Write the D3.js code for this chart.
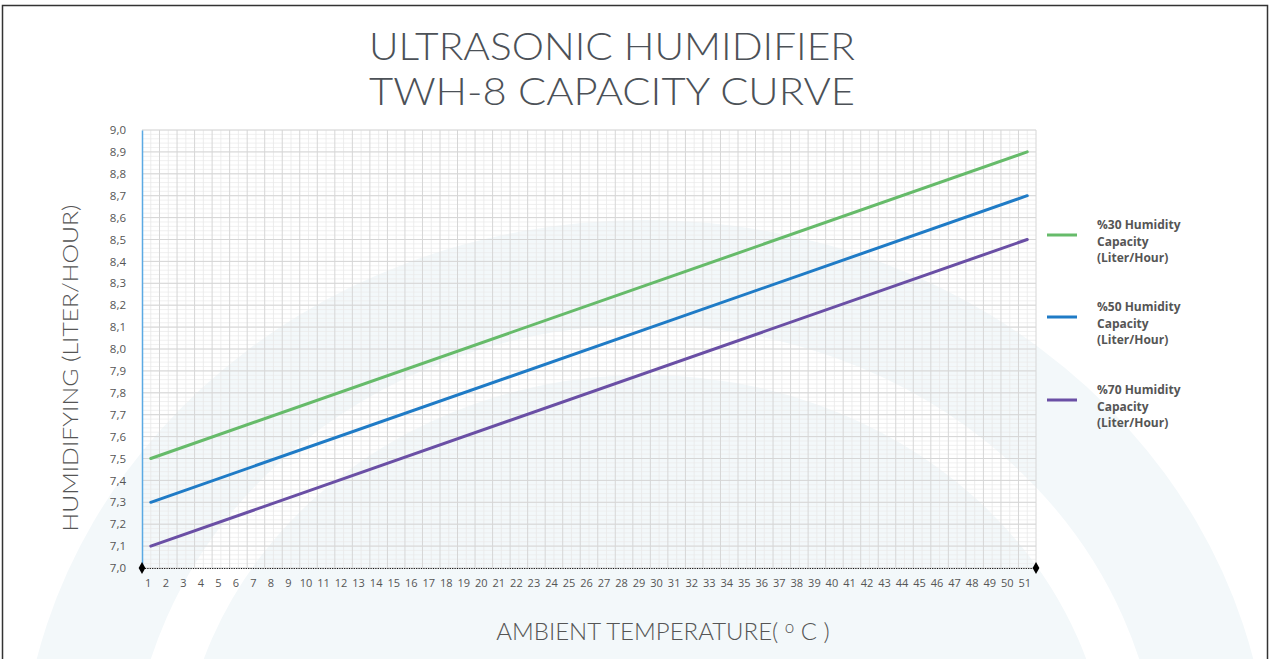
<!DOCTYPE html>
<html>
<head>
<meta charset="utf-8">
<script src="https://cdn.jsdelivr.net/npm/d3@7"></script>
<style>
  body { margin: 0; background: #fff; }
  text { font-family: "Open Sans", sans-serif; }
</style>
</head>
<body>
<div id="chart"></div>
<script>
// data
var temps = [1, 51];
var hum30 = [7.5, 8.9];
var hum50 = [7.3, 8.7];
var hum70 = [7.1, 8.5];
var seriesNames = ["%30 Humidity", "%50 Humidity", "%70 Humidity"];
var seriesColors = ["#66bb6a", "#1f7bc6", "#6a4fa5"];
var xTicks = d3.range(1, 52);
var yTicks = d3.range(7.0, 9.001, 0.1);

var W = 1269, H = 659;
var svg = d3.select("#chart").append("svg")
    .attr("width", W)
    .attr("height", H);

// faint arch watermark behind everything
svg.append("ellipse")
    .attr("cx", 645).attr("cy", 790)
    .attr("rx", 625).attr("ry", 570)
    .attr("fill", "#f3f8fa");
svg.append("ellipse")
    .attr("cx", 645).attr("cy", 790)
    .attr("rx", 490).attr("ry", 440)
    .attr("fill", "none")
    .attr("stroke", "#fff")
    .attr("stroke-width", 50);

// frame
svg.append("rect")
    .attr("x", 2.5).attr("y", 5.5)
    .attr("width", 1265).attr("height", 700)
    .attr("fill", "none")
    .attr("stroke", "#333")
    .attr("stroke-width", 1.5);

var x = d3.scaleLinear().domain([0.5, 51.5]).range([142, 1036]);
var y = d3.scaleLinear().domain([7.0, 9.0]).range([568, 130]);

// grid
var g = svg.append("g");
var vMinor = d3.range(1, 52);
var vMajor = d3.range(1.5, 51.6, 1);
var hMinor = d3.range(0, 101).map(function(i) { return 7 + i * 0.02; });
var hMajor = d3.range(0, 21).map(function(i) { return 7 + i * 0.1; });

g.selectAll(".hmin").data(hMinor).enter().append("line")
    .attr("x1", x(0.5)).attr("x2", x(51.5))
    .attr("y1", function(d) { return y(d); })
    .attr("y2", function(d) { return y(d); })
    .attr("stroke", "#ececec").attr("stroke-width", 0.8);
g.selectAll(".vmin").data(vMinor).enter().append("line")
    .attr("x1", function(d) { return x(d); })
    .attr("x2", function(d) { return x(d); })
    .attr("y1", y(9)).attr("y2", y(7))
    .attr("stroke", "#e8e8e8").attr("stroke-width", 0.8);
g.selectAll(".hmaj").data(hMajor).enter().append("line")
    .attr("x1", x(0.5)).attr("x2", x(51.5))
    .attr("y1", function(d) { return y(d); })
    .attr("y2", function(d) { return y(d); })
    .attr("stroke", "#d6d6d6").attr("stroke-width", 1);
g.selectAll(".vmaj").data(vMajor).enter().append("line")
    .attr("x1", function(d) { return x(d); })
    .attr("x2", function(d) { return x(d); })
    .attr("y1", y(9)).attr("y2", y(7))
    .attr("stroke", "#d6d6d6").attr("stroke-width", 1);

// axes
var yAxis = svg.append("g")
    .attr("transform", "translate(" + x(0.5) + ",0)")
    .call(d3.axisLeft(y).tickValues(yTicks).tickSize(0).tickPadding(16)
        .tickFormat(function(d) { return d3.format(".1f")(d).replace(".", ","); }));
yAxis.select(".domain").attr("stroke", "#5aa9e3").attr("stroke-width", 1.5);
yAxis.selectAll("text").attr("fill", "#555").style("font-size", "11.5px");

var xAxis = svg.append("g")
    .attr("transform", "translate(0," + y(7) + ")")
    .call(d3.axisBottom(x).tickValues(xTicks).tickSize(0).tickPadding(11)
        .tickFormat(d3.format("d")));
xAxis.select(".domain").attr("stroke", "#111").attr("stroke-width", 1.2)
    .attr("stroke-dasharray", "1.2,1.2");
xAxis.selectAll("text").attr("fill", "#555").style("font-size", "11px")
    .attr("dx", -3);

// diamonds at ends of the baseline
svg.selectAll(".dia").data([0.5, 51.5]).enter().append("path")
    .attr("d", d3.symbol().type(d3.symbolDiamond).size(40))
    .attr("transform", function(d) { return "translate(" + x(d) + "," + y(7) + ")"; })
    .attr("fill", "#000");

// series lines
var series = [hum30, hum50, hum70];
var line = d3.line()
    .x(function(d, i) { return x(temps[i]); })
    .y(function(d) { return y(d); });
svg.selectAll(".series").data(series).enter().append("path")
    .attr("d", function(d) { return line(d); })
    .attr("fill", "none")
    .attr("stroke", function(d, i) { return seriesColors[i]; })
    .attr("stroke-width", 3)
    .attr("stroke-linecap", "round");

// legend
var legY = [235, 317, 400];
var leg = svg.selectAll(".leg").data(seriesNames).enter().append("g")
    .attr("transform", function(d, i) { return "translate(1047," + legY[i] + ")"; });
leg.append("line")
    .attr("x1", 0).attr("x2", 30)
    .attr("stroke", function(d, i) { return seriesColors[i]; })
    .attr("stroke-width", 3);
leg.each(function(d) {
    var t = d3.select(this).append("text")
        .attr("x", 50).attr("y", -6)
        .attr("fill", "#555")
        .style("font-size", "12px")
        .style("font-weight", "700");
    [d, "Capacity", "(Liter/Hour)"].forEach(function(s, k) {
        t.append("tspan").attr("x", 50).attr("dy", k === 0 ? 0 : 16.5).text(s);
    });
});

// title
var title = ["ULTRASONIC HUMIDIFIER", "TWH-8 CAPACITY CURVE"];
svg.selectAll(".title").data(title).enter().append("text")
    .attr("x", 612)
    .attr("y", function(d, i) { return 60 + i * 44.5; })
    .attr("text-anchor", "middle")
    .attr("fill", "#4c5157")
    .attr("textLength", 486)
    .attr("lengthAdjust", "spacingAndGlyphs")
    .style("font-family", "Lato, sans-serif")
    .style("font-weight", "300")
    .style("font-size", "37px")
    .text(function(d) { return d; });

// axis titles
svg.append("text")
    .attr("transform", "translate(78,368) rotate(-90)")
    .attr("text-anchor", "middle")
    .attr("fill", "#555")
    .attr("textLength", 327)
    .attr("lengthAdjust", "spacingAndGlyphs")
    .style("font-family", "Lato, sans-serif")
    .style("font-weight", "300")
    .style("font-size", "22px")
    .text("HUMIDIFYING (LITER/HOUR)");

var xt = svg.append("text")
    .attr("x", 663).attr("y", 640)
    .attr("text-anchor", "middle")
    .attr("fill", "#555")
    .style("font-family", "Lato, sans-serif")
    .style("font-weight", "300")
    .style("font-size", "24px");
xt.append("tspan").text("AMBIENT TEMPERATURE( ");
xt.append("tspan").attr("dy", -7).style("font-size", "17px").text("o");
xt.append("tspan").attr("dy", 7).text(" C )");
</script>
</body>
</html>
